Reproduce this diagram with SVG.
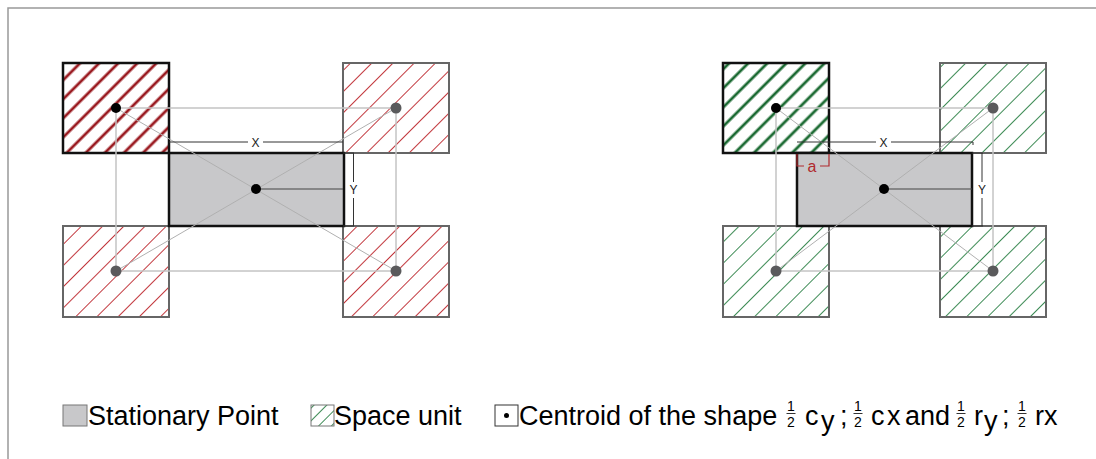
<svg xmlns="http://www.w3.org/2000/svg" width="1096" height="459" viewBox="0 0 1096 459">
<defs>
<pattern id="hDarkRed" patternUnits="userSpaceOnUse" width="13.5" height="13.5" patternTransform="rotate(45)"><line x1="6.75" y1="0" x2="6.75" y2="13.5" stroke="#9a1a20" stroke-width="2.8"/></pattern>
<pattern id="hLightRed" patternUnits="userSpaceOnUse" width="15" height="15" patternTransform="rotate(45)"><line x1="7.5" y1="0" x2="7.5" y2="15" stroke="#c2383e" stroke-width="1"/></pattern>
<pattern id="hDarkGreen" patternUnits="userSpaceOnUse" width="13.5" height="13.5" patternTransform="rotate(45)"><line x1="6.75" y1="0" x2="6.75" y2="13.5" stroke="#1b6a32" stroke-width="2.8"/></pattern>
<pattern id="hLightGreen" patternUnits="userSpaceOnUse" width="15" height="15" patternTransform="rotate(45)"><line x1="7.5" y1="0" x2="7.5" y2="15" stroke="#3d8b55" stroke-width="1"/></pattern>
<pattern id="hLegend" patternUnits="userSpaceOnUse" width="9" height="9" patternTransform="rotate(45)"><line x1="4.5" y1="0" x2="4.5" y2="9" stroke="#3d8b55" stroke-width="1"/></pattern>
</defs>
<style>
.frame{stroke:#999;stroke-width:1.5;fill:none}
.sqDark{stroke:#111;stroke-width:2.5}
.sqLight{stroke:#666;stroke-width:2}
.stat{fill:#c8c8ca;stroke:#111;stroke-width:2.5}
.guide{stroke:#c4c4c4;stroke-width:1.5;fill:none}
.diag{stroke:#b0b0b0;stroke-width:1;fill:none}
.dim{stroke:#333;stroke-width:1;fill:none}
.radius{stroke:#444;stroke-width:1.2}
.dotB{fill:#000}
.dotG{fill:#5a5a5c}
.lbl{font-family:"Liberation Sans",Arial,sans-serif;font-size:12px;fill:#222;text-anchor:middle}
.leg{font-family:"Liberation Sans",Arial,sans-serif;font-size:27px;fill:#000}
.frac{font-family:"Liberation Sans",Arial,sans-serif;font-size:14px;fill:#000;text-anchor:middle}
.red{stroke:#b02a2e;stroke-width:1.2;fill:none}
</style>
<g id="frame"><path class="frame" d="M8,459 V8 H1096"/></g>

<g id="left-diagram">
<g id="L-sq-tl"><rect x="63" y="63" width="106" height="90" fill="url(#hDarkRed)" class="sqDark"/></g>
<g id="L-sq-tr"><rect x="343" y="63" width="106" height="90" fill="url(#hLightRed)" class="sqLight"/></g>
<g id="L-sq-bl"><rect x="63" y="226" width="106" height="91" fill="url(#hLightRed)" class="sqLight"/></g>
<g id="L-sq-br"><rect x="343" y="226" width="106" height="91" fill="url(#hLightRed)" class="sqLight"/></g>
<g id="L-stationary"><rect x="169" y="153" width="175" height="73" class="stat"/></g>
</g>

<g id="right-diagram">
<g id="R-sq-tl"><rect x="723" y="63" width="106" height="90" fill="url(#hDarkGreen)" class="sqDark"/></g>
<g id="R-sq-tr"><rect x="940" y="63" width="106" height="90" fill="url(#hLightGreen)" class="sqLight"/></g>
<g id="R-sq-bl"><rect x="723" y="226" width="106" height="91" fill="url(#hLightGreen)" class="sqLight"/></g>
<g id="R-sq-br"><rect x="940" y="226" width="106" height="91" fill="url(#hLightGreen)" class="sqLight"/></g>
<g id="R-stationary"><rect x="797" y="153" width="175" height="73" class="stat"/></g>
</g>

<g id="connectors">
<rect class="guide" x="116" y="108" width="280" height="163"/>
<line class="diag" x1="116" y1="108" x2="396" y2="271"/>
<line class="diag" x1="116" y1="271" x2="396" y2="108"/>
<path class="dim" d="M169,142 H248 M263,142 H343"/>
<path class="dim" d="M343,153 H354 M343,226 H354 M353.5,153 V182 M353.5,198 V226"/>
<line class="radius" x1="256" y1="189" x2="343" y2="189"/>

<rect class="guide" x="776" y="108" width="217" height="163"/>
<line class="diag" x1="776" y1="108" x2="993" y2="271"/>
<line class="diag" x1="776" y1="271" x2="993" y2="108"/>
<path class="dim" d="M797,142 H876 M891,142 H973 V145"/>
<path class="dim" d="M972,153 H983 M972,226 H983 M982,153 V182 M982,198 V226"/>
<line class="radius" x1="884" y1="189" x2="972" y2="189"/>
<path class="red" d="M797,154 V166 H804 M820,166 H829 V154"/>
</g>

<g id="labels">
<text class="lbl" x="255.5" y="146.5">X</text>
<text class="lbl" x="353.5" y="194">Y</text>
<text class="lbl" x="883.5" y="146.5">X</text>
<text class="lbl" x="982" y="194">Y</text>
<text x="812" y="171.5" font-family="Liberation Sans,Arial,sans-serif" font-size="16" fill="#b02a2e" text-anchor="middle">a</text>
</g>

<g id="centroids">
<circle class="dotB" cx="116" cy="108" r="5"/>
<circle class="dotG" cx="396" cy="108" r="5.5"/>
<circle class="dotG" cx="116" cy="271" r="5.5"/>
<circle class="dotG" cx="396" cy="271" r="5.5"/>
<circle class="dotB" cx="256" cy="189" r="5"/>
<circle class="dotB" cx="776" cy="108" r="5"/>
<circle class="dotG" cx="993" cy="108" r="5.5"/>
<circle class="dotG" cx="776" cy="271" r="5.5"/>
<circle class="dotG" cx="993" cy="271" r="5.5"/>
<circle class="dotB" cx="884" cy="189" r="5"/>
</g>

<g id="legend">
<rect x="63" y="405" width="24" height="21" fill="#c8c8ca" stroke="#777" stroke-width="1"/>
<text class="leg" x="88" y="424.5">Stationary Point</text>
<rect x="311" y="405" width="23" height="21" fill="url(#hLegend)" stroke="#777" stroke-width="1"/>
<text class="leg" x="334" y="424.5">Space unit</text>
<rect x="495" y="405" width="23" height="21" fill="#fff" stroke="#333" stroke-width="1"/>
<circle cx="506.5" cy="415.5" r="2.5" fill="#000"/>
<text class="leg" x="519" y="424.5">Centroid of the shape</text>
<text class="frac" x="791" y="410.5">1</text><line x1="786.5" y1="413.5" x2="795.5" y2="413.5" stroke="#000" stroke-width="0.8"/><text class="frac" x="791" y="426.5">2</text>
<text class="leg" x="805" y="424.5">c</text>
<text class="leg" x="821" y="430" font-size="19">y</text>
<text class="leg" x="840" y="424.5">;</text>
<text class="frac" x="858" y="410.5">1</text><line x1="853.5" y1="413.5" x2="862.5" y2="413.5" stroke="#000" stroke-width="0.8"/><text class="frac" x="858" y="426.5">2</text>
<text class="leg" x="871" y="424.5">c</text>
<text class="leg" x="887" y="424.5" font-size="20">x</text>
<text class="leg" x="905" y="424.5">and</text>
<text class="frac" x="961" y="410.5">1</text><line x1="956.5" y1="413.5" x2="965.5" y2="413.5" stroke="#000" stroke-width="0.8"/><text class="frac" x="961" y="426.5">2</text>
<text class="leg" x="974" y="424.5">r</text>
<text class="leg" x="984" y="430" font-size="19">y</text>
<text class="leg" x="1002" y="424.5">;</text>
<text class="frac" x="1022" y="410.5">1</text><line x1="1017.5" y1="413.5" x2="1026.5" y2="413.5" stroke="#000" stroke-width="0.8"/><text class="frac" x="1022" y="426.5">2</text>
<text class="leg" x="1035" y="424.5">r</text>
<text class="leg" x="1044" y="424.5" font-size="20">x</text>
</g>
</svg>
